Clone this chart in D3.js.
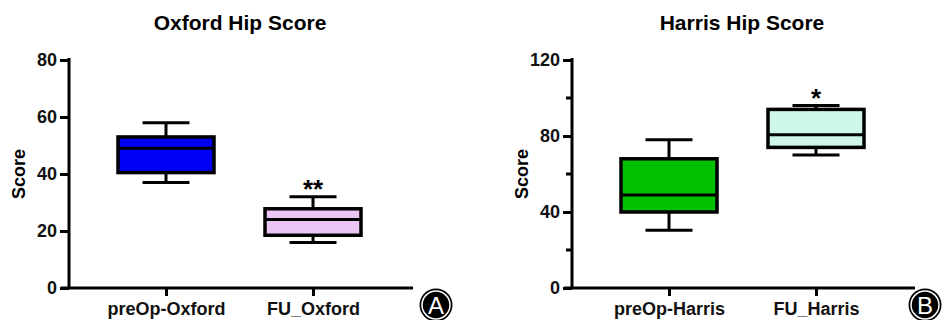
<!DOCTYPE html>
<html>
<head>
<meta charset="utf-8">
<script src="https://cdn.jsdelivr.net/npm/d3@7"></script>
<style>
  body { margin: 0; background: #fff; }
  svg text { font-family: "Liberation Sans", Arial, sans-serif; font-weight: bold; }
</style>
</head>
<body>
<div id="chart"></div>
<script>
// box stats: [min, q1, median, q3, max]
var oxfordGroups = ["preOp-Oxford", "FU_Oxford"];
var oxfordStats = [[37, 40.5, 49, 53, 58], [16, 18.5, 24, 27.8, 32]];
var oxfordColors = ["#0000f5", "#ebc6f5"];
var oxfordStars = ["", "**"];
var oxfordTicks = [0, 20, 40, 60, 80];

var harrisGroups = ["preOp-Harris", "FU_Harris"];
var harrisStats = [[30.4, 40, 49, 68, 78], [70, 74, 80.7, 94, 96]];
var harrisColors = ["#00c000", "#cff7e8"];
var harrisStars = ["", "*"];
var harrisTicks = [0, 40, 80, 120];
var harrisMinor = [20, 60, 100];

var svg = d3.select("#chart").append("svg")
  .attr("width", 952)
  .attr("height", 320);

function drawPanel(opt) {
  var g = svg.append("g");
  var y = d3.scaleLinear().domain(opt.domain).range([288, 60]);
  var x = d3.scalePoint().domain(opt.groups).range([opt.x0 + 97, opt.x0 + 244]);
  var boxW = 96, capW = 47;

  g.append("text")
    .attr("x", opt.titleX).attr("y", 30)
    .attr("text-anchor", "middle")
    .style("font-size", "21px")
    .text(opt.title);

  // y axis
  var yAxis = d3.axisLeft(y).tickValues(opt.ticks).tickSize(9).tickPadding(3);
  var ya = g.append("g").attr("transform", "translate(" + opt.x0 + ",0)").call(yAxis);
  ya.select(".domain").attr("d", "M0,58V289").attr("stroke-width", 3);
  ya.selectAll(".tick line").attr("stroke-width", 3);
  ya.selectAll(".tick text").style("font-size", "18px").attr("fill", "#111");
  if (opt.minor) {
    g.selectAll(".minor").data(opt.minor).enter().append("line")
      .attr("x1", opt.x0 - 6).attr("x2", opt.x0)
      .attr("y1", function(d) { return y(d); })
      .attr("y2", function(d) { return y(d); })
      .attr("stroke", "#000").attr("stroke-width", 3);
  }

  // x axis
  var xAxis = d3.axisBottom(x).tickSize(8).tickPadding(6);
  var xa = g.append("g").attr("transform", "translate(0,288)").call(xAxis);
  xa.select(".domain").attr("d", "M" + (opt.x0 - 8) + ",0H" + opt.xEnd).attr("stroke-width", 3);
  xa.selectAll(".tick line").attr("stroke-width", 3);
  xa.selectAll(".tick text").style("font-size", "18px").attr("fill", "#111");

  g.append("text")
    .attr("transform", "translate(" + (opt.x0 - 44) + "," + y((opt.domain[0] + opt.domain[1]) / 2) + ") rotate(-90)")
    .attr("text-anchor", "middle")
    .style("font-size", "18px")
    .text("Score");

  var boxes = g.selectAll(".box").data(opt.stats).enter().append("g");
  boxes.each(function(s, i) {
    var b = d3.select(this);
    var cx = x(opt.groups[i]);
    b.append("line").attr("x1", cx).attr("x2", cx).attr("y1", y(s[4])).attr("y2", y(s[3]))
      .attr("stroke", "#000").attr("stroke-width", 3);
    b.append("line").attr("x1", cx).attr("x2", cx).attr("y1", y(s[1])).attr("y2", y(s[0]))
      .attr("stroke", "#000").attr("stroke-width", 3);
    b.append("line").attr("x1", cx - capW / 2).attr("x2", cx + capW / 2).attr("y1", y(s[4])).attr("y2", y(s[4]))
      .attr("stroke", "#000").attr("stroke-width", 3);
    b.append("line").attr("x1", cx - capW / 2).attr("x2", cx + capW / 2).attr("y1", y(s[0])).attr("y2", y(s[0]))
      .attr("stroke", "#000").attr("stroke-width", 3);
    b.append("rect")
      .attr("x", cx - boxW / 2).attr("width", boxW)
      .attr("y", y(s[3])).attr("height", y(s[1]) - y(s[3]))
      .attr("fill", opt.colors[i]).attr("stroke", "#000").attr("stroke-width", 3.5);
    b.append("line").attr("x1", cx - boxW / 2).attr("x2", cx + boxW / 2).attr("y1", y(s[2])).attr("y2", y(s[2]))
      .attr("stroke", "#000").attr("stroke-width", 3);
    if (opt.stars[i]) {
      b.append("text")
        .attr("x", cx).attr("y", y(s[4]) + 1)
        .attr("text-anchor", "middle")
        .style("font-size", "26px")
        .text(opt.stars[i]);
    }
  });

  // panel letter
  var c = g.append("g").attr("transform", "translate(" + opt.letterX + ",305)");
  c.append("circle").attr("r", 16.5).attr("fill", "#000");
  c.append("circle").attr("r", 14).attr("fill", "none").attr("stroke", "#fff").attr("stroke-width", 1.5);
  c.append("text").attr("y", 8.5).attr("text-anchor", "middle")
    .style("font-size", "24px").style("font-weight", "normal").attr("fill", "#fff")
    .text(opt.letter);
}

drawPanel({
  title: "Oxford Hip Score", titleX: 240, x0: 69, xEnd: 413,
  domain: [0, 80], ticks: oxfordTicks, groups: oxfordGroups,
  stats: oxfordStats, colors: oxfordColors, stars: oxfordStars,
  letter: "A", letterX: 436
});

drawPanel({
  title: "Harris Hip Score", titleX: 742, x0: 572, xEnd: 915,
  domain: [0, 120], ticks: harrisTicks, minor: harrisMinor, groups: harrisGroups,
  stats: harrisStats, colors: harrisColors, stars: harrisStars,
  letter: "B", letterX: 925
});
</script>
</body>
</html>
